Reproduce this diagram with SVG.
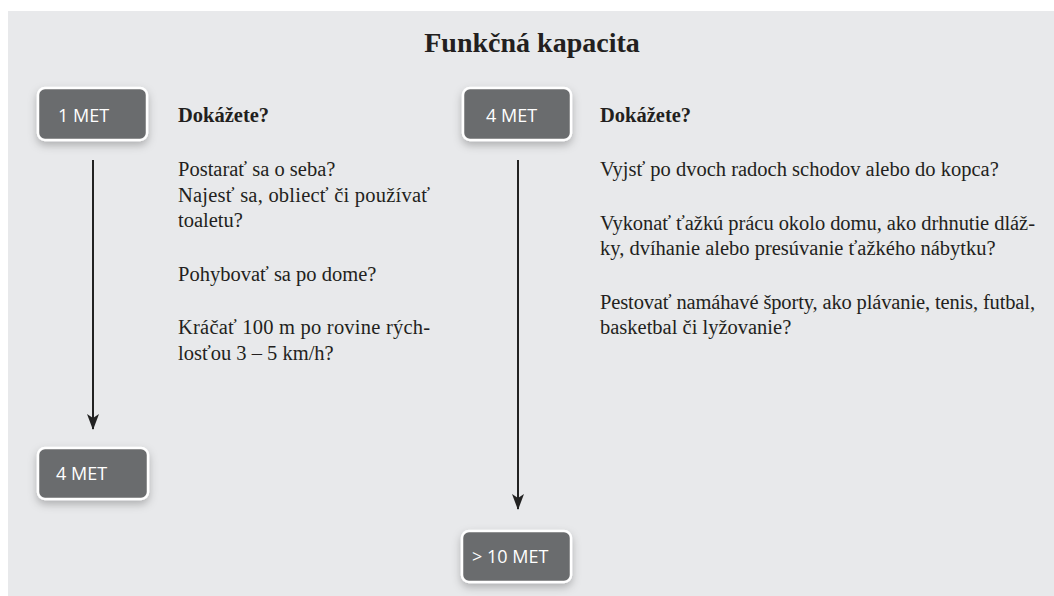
<svg xmlns="http://www.w3.org/2000/svg" width="1054" height="596" viewBox="0 0 1054 596">
  <defs>
    <filter id="shadow" x="-20%" y="-30%" width="140%" height="170%">
      <feDropShadow dx="0" dy="4" stdDeviation="4" flood-color="#000" flood-opacity="0.25"/>
    </filter>
    <marker id="arrow" viewBox="0 0 16 12" refX="15" refY="6" markerWidth="16" markerHeight="12" markerUnits="userSpaceOnUse" orient="auto">
      <path d="M0,0 L16,6 L0,12 L4,6 Z" fill="#222"/>
    </marker>
    <style>
      .box { fill: #6b6c6e; stroke: #ffffff; stroke-width: 2.5; filter: url(#shadow); }
      .lbl { font-family: "Open Sans", "Liberation Sans", sans-serif; font-size: 18px; fill: #ffffff; }
      .title { font-family: "Liberation Serif", serif; font-size: 28px; font-weight: bold; fill: #231f20; }
      .head { font-family: "Liberation Serif", serif; font-size: 20.5px; font-weight: bold; fill: #231f20; }
      .body { font-family: "Liberation Serif", serif; font-size: 20.5px; fill: #231f20; }
      .conn { stroke: #222; stroke-width: 2; fill: none; }
    </style>
  </defs>
  <rect x="0" y="0" width="1054" height="596" fill="#ffffff"/>
  <rect x="8" y="11" width="1046" height="585" fill="#e8e9eb"/>

  <text class="title" x="532" y="52" text-anchor="middle">Funkčná kapacita</text>

  <g id="connectors">
    <path class="conn" d="M93,160 L93,429" marker-end="url(#arrow)"/>
    <path class="conn" d="M518,160 L518,509" marker-end="url(#arrow)"/>
  </g>

  <g id="node-1met">
    <rect class="box" x="38" y="88" width="109" height="52" rx="7"/>
    <text class="lbl" x="58" y="122">1 MET</text>
  </g>
  <g id="node-4met-left">
    <rect class="box" x="38" y="448" width="110" height="51" rx="7"/>
    <text class="lbl" x="56" y="480">4 MET</text>
  </g>
  <g id="node-4met-right">
    <rect class="box" x="463" y="88" width="108" height="52" rx="7"/>
    <text class="lbl" x="486" y="122">4 MET</text>
  </g>
  <g id="node-10met">
    <rect class="box" x="462" y="531" width="109" height="51" rx="7"/>
    <text class="lbl" x="472" y="563">&gt; 10 MET</text>
  </g>

  <g id="text-left">
    <text class="head" x="178" y="122">Dokážete?</text>
    <text class="body" x="178" y="176">Postarať sa o seba?</text>
    <text class="body" x="178" y="201.5" textLength="252">Najesť sa, obliecť či používať</text>
    <text class="body" x="178" y="227">toaletu?</text>
    <text class="body" x="178" y="280.5">Pohybovať sa po dome?</text>
    <text class="body" x="178" y="334" textLength="252">Kráčať 100 m po rovine rých-</text>
    <text class="body" x="178" y="359.5">losťou 3 – 5 km/h?</text>
  </g>

  <g id="text-right">
    <text class="head" x="600" y="122">Dokážete?</text>
    <text class="body" x="600" y="176">Vyjsť po dvoch radoch schodov alebo do kopca?</text>
    <text class="body" x="600" y="229.5" textLength="435">Vykonať ťažkú prácu okolo domu, ako drhnutie dláž-</text>
    <text class="body" x="600" y="255">ky, dvíhanie alebo presúvanie ťažkého nábytku?</text>
    <text class="body" x="600" y="308.5" textLength="435">Pestovať namáhavé športy, ako plávanie, tenis, futbal,</text>
    <text class="body" x="600" y="334">basketbal či lyžovanie?</text>
  </g>
</svg>
